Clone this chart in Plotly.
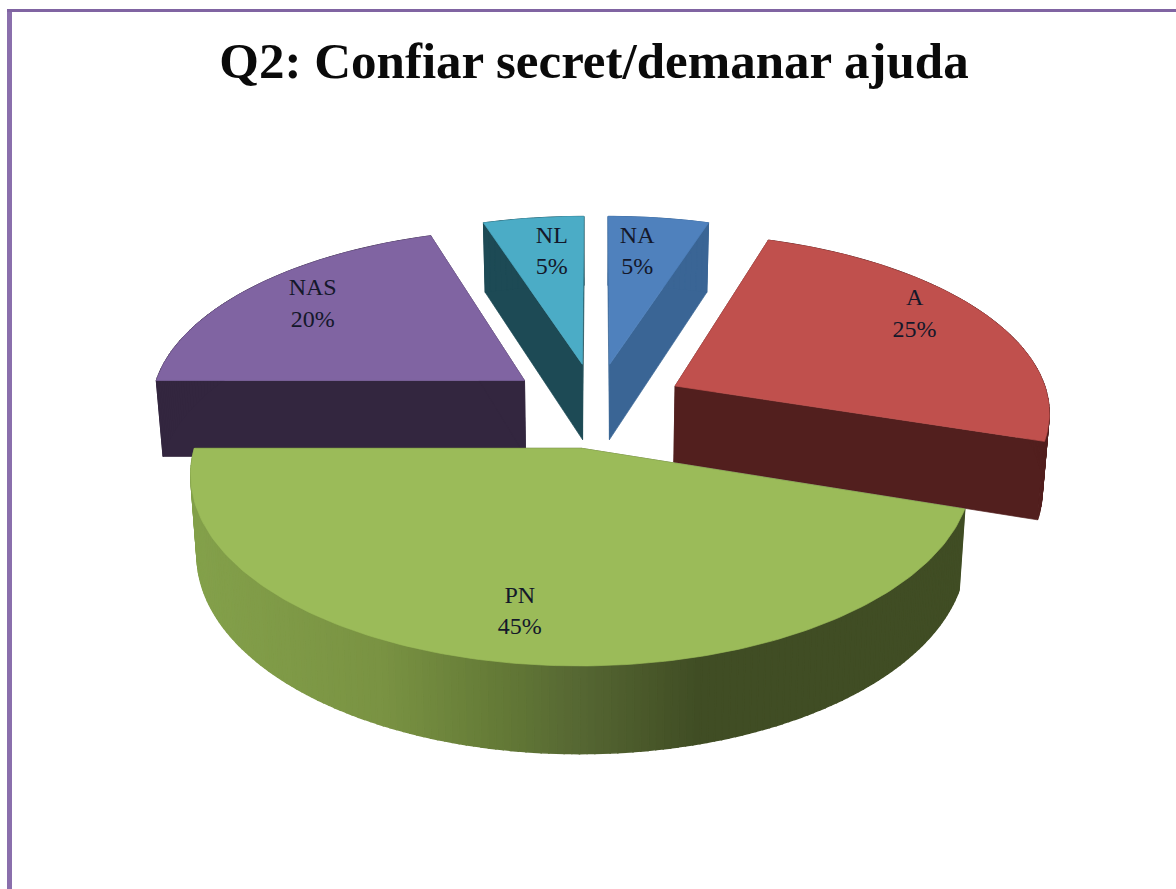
import math
import plotly.graph_objects as go

# Data
categories = ["NA", "A", "PN", "NAS", "NL"]
values = [5, 25, 45, 20, 5]
title_text = "Q2: Confiar secret/demanar ajuda"

# Colours
top_colors = ["#4f81bd", "#c0504d", "#9bbb59", "#8064a2", "#4bacc6"]
side_colors = ["#3a6595", "#521f1e", "#404d24", "#33263f", "#1d4a55"]
rim_x_stops = [190, 380, 500, 580, 700]
rim_rgb_stops = [(132, 161, 75), (122, 147, 67), (100, 122, 55), (86, 103, 51), (64, 77, 36)]

# Pseudo-3D projection settings (pixel-space axes)
CX, CY = 596, 405
R = 375
EXPLODE = 90
TILT = 0.472
PERSP = 0.13
DEPTH = 77
VANISH = 0.0002
LABEL_FRAC = 0.72
label_nudges = [(-9, -3), (15, -17), (-12, 16), (-12, -7), (6, -3)]


def project(u, v, z=0.0):
    s = 1.0 / (1.0 - PERSP * v / R)
    shrink = 1.0 - VANISH * z
    return CX + u * s * shrink, CY + v * TILT * s * shrink + z * s


def disk(theta_deg, radius, mid_deg):
    t, m = math.radians(theta_deg), math.radians(mid_deg)
    return (EXPLODE * math.sin(m) + radius * math.sin(t),
            -EXPLODE * math.cos(m) - radius * math.cos(t))


def rim_color(x):
    if x <= rim_x_stops[0]:
        return "rgb(%d,%d,%d)" % rim_rgb_stops[0]
    for k in range(len(rim_x_stops) - 1):
        x0, x1 = rim_x_stops[k], rim_x_stops[k + 1]
        if x <= x1:
            f = (x - x0) / (x1 - x0)
            c0, c1 = rim_rgb_stops[k], rim_rgb_stops[k + 1]
            return "rgb(%d,%d,%d)" % tuple(int(c0[q] + (c1[q] - c0[q]) * f) for q in range(3))
    return "rgb(%d,%d,%d)" % rim_rgb_stops[-1]


fig = go.Figure()


def poly(points, color, width=0.7):
    xs = [p[0] for p in points] + [points[0][0]]
    ys = [p[1] for p in points] + [points[0][1]]
    fig.add_trace(go.Scatter(x=xs, y=ys, mode="lines", fill="toself", fillcolor=color,
                             line=dict(color=color, width=width), hoverinfo="skip", showlegend=False))


total = sum(values)
spans = []
a = 0.0
for v in values:
    b = a + 360.0 * v / total
    spans.append((a, b))
    a = b

order = [3, 4, 0, 1, 2]  # back to front
for i in order:
    a, b = spans[i]
    m = (a + b) / 2
    apex = disk(m, 0, m)
    n = max(6, int(b - a))
    angles = [a + (b - a) * j / n for j in range(n + 1)]
    rim = [disk(t, R, m) for t in angles]
    # cut faces
    for end in (rim[0], rim[-1]):
        poly([project(*apex), project(*end), project(*end, DEPTH), project(*apex, DEPTH)], side_colors[i])
    # rim
    for j in range(n):
        if categories[i] == "PN":
            col = rim_color((project(*rim[j])[0] + project(*rim[j + 1])[0]) / 2)
            width = 1.5
        else:
            col = side_colors[i]
            width = 1
        poly([project(*rim[j]), project(*rim[j + 1]), project(*rim[j + 1], DEPTH), project(*rim[j], DEPTH)], col, width)
    # top face
    poly([project(*apex)] + [project(*p) for p in rim], top_colors[i])

lx, ly, lt = [], [], []
for i, (a, b) in enumerate(spans):
    m = (a + b) / 2
    x, y = project(*disk(m, R * LABEL_FRAC, m))
    lx.append(x + label_nudges[i][0])
    ly.append(y + label_nudges[i][1])
    lt.append(f"{categories[i]}<br>{round(100 * values[i] / total)}%")
fig.add_trace(go.Scatter(x=lx, y=ly, mode="text", text=lt, textposition="middle center",
                         textfont=dict(family="Liberation Serif", size=24, color="#14182a"),
                         hoverinfo="skip", showlegend=False))

fig.update_layout(
    width=1176, height=889, autosize=False,
    margin=dict(l=0, r=0, t=0, b=0),
    paper_bgcolor="white", plot_bgcolor="white",
    xaxis=dict(range=[0, 1176], visible=False, fixedrange=True),
    yaxis=dict(range=[889, 0], visible=False, fixedrange=True),
    title=dict(text="<b>" + title_text + "</b>", x=594 / 1176, xanchor="center", y=1 - 60 / 889, yanchor="middle",
               font=dict(family="Liberation Serif", size=51, color="#0a0a0a")),
    shapes=[
        dict(type="line", xref="paper", yref="paper", x0=9.5 / 1176, x1=9.5 / 1176, y0=0, y1=1 - 9 / 889,
             line=dict(color="#8a6fac", width=5)),
        dict(type="line", xref="paper", yref="paper", x0=7 / 1176, x1=1, y0=1 - 10.5 / 889, y1=1 - 10.5 / 889,
             line=dict(color="#8064a2", width=3)),
    ],
)
fig.write_html("out.html", config={"displayModeBar": False},
               post_script="document.body.style.margin='0';")
